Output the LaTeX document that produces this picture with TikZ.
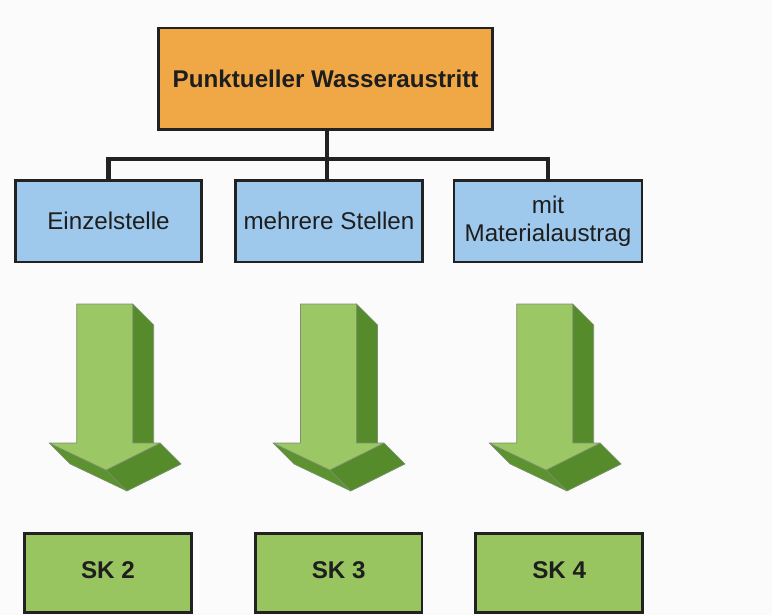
\documentclass[tikz,border=0pt]{standalone}
\usepackage{fontspec}
\setmainfont{Liberation Sans}
\definecolor{bgcol}{HTML}{FBFBFB}
\definecolor{orangefill}{HTML}{F0A846}
\definecolor{bluefill}{HTML}{9FC9EC}
\definecolor{greenfill}{HTML}{98C55F}
\definecolor{arrowfront}{HTML}{9BC865}
\definecolor{arrowside}{HTML}{568B2B}
\definecolor{arrowlow}{HTML}{5C9330}
\definecolor{arrowedge}{HTML}{7E8F72}
\definecolor{edgecol}{HTML}{222222}
\definecolor{textcol}{HTML}{1E1E1E}
\begin{document}
\begin{tikzpicture}[x=1pt,y=-1pt,
  box/.style={draw=edgecol, line width=2.6pt, rectangle, inner sep=0pt,
    text=textcol, align=center, font=\fontsize{24.2}{27.5}\selectfont},
  topbox/.style={box, fill=orangefill, minimum width=334pt, minimum height=101.4pt,
    font=\fontsize{24.2}{27.5}\selectfont\bfseries},
  casebox/.style={box, fill=bluefill, minimum height=81.4pt},
  classbox/.style={box, fill=greenfill, minimum height=78.9pt, text depth=6pt,
    font=\fontsize{24.2}{27.5}\selectfont\bfseries},
  conn/.style={draw=edgecol, line width=4.2pt},
  face/.style={draw=arrowedge, line width=0.6pt, line join=round},
  greenarrow/.pic={
    % right side of the shaft
    \fill[arrowside, face] (28,0) -- (49,21) -- (49,160) -- (28,139) -- cycle;
    % lower faces of the head
    \fill[arrowlow, face] (-55.5,139) -- (-34.5,160) -- (22.3,187) -- (1.3,166) -- cycle;
    \fill[arrowside, face] (55.5,139) -- (76.5,160) -- (22.3,187) -- (1.3,166) -- cycle;
    % front face
    \fill[arrowfront, face] (-28,0) -- (28,0) -- (28,139) -- (55.5,139) -- (1.3,166)
      -- (-55.5,139) -- (-28,139) -- cycle;
  }]
\useasboundingbox (0,0) rectangle (772,615);
\fill[bgcol] (0,0) rectangle (772,615);

% root
\node[topbox] (top) at (325.6,78.7) {Punktueller Wasseraustritt};

% cases
\node[casebox, minimum width=186.4pt] (b1) at (108.5,221.3) {Einzelstelle};
\node[casebox, minimum width=187.4pt] (b2) at (329,221.3) {mehrere Stellen};
\node[casebox, minimum width=188pt] (b3) at (548,221.3) {mit\\Materialaustrag};

% tree connectors
\coordinate (bus) at (327,159);
\draw[conn] (top.south -| bus) -- (bus);
\draw[conn] (b1.north) |- (bus) -| (b3.north);
\draw[conn] (b2.north -| bus) -- (bus);

% arrows
\pic at (104.7,304) {greenarrow};
\pic at (328.5,304) {greenarrow};
\pic at (544.7,304) {greenarrow};

% classes
\node[classbox, minimum width=166.8pt] (sk2) at (108,573.2) {SK 2};
\node[classbox, minimum width=166.7pt] (sk3) at (338.7,573.2) {SK 3};
\node[classbox, minimum width=167pt] (sk4) at (559.2,573.2) {SK 4};
\end{tikzpicture}
\end{document}
